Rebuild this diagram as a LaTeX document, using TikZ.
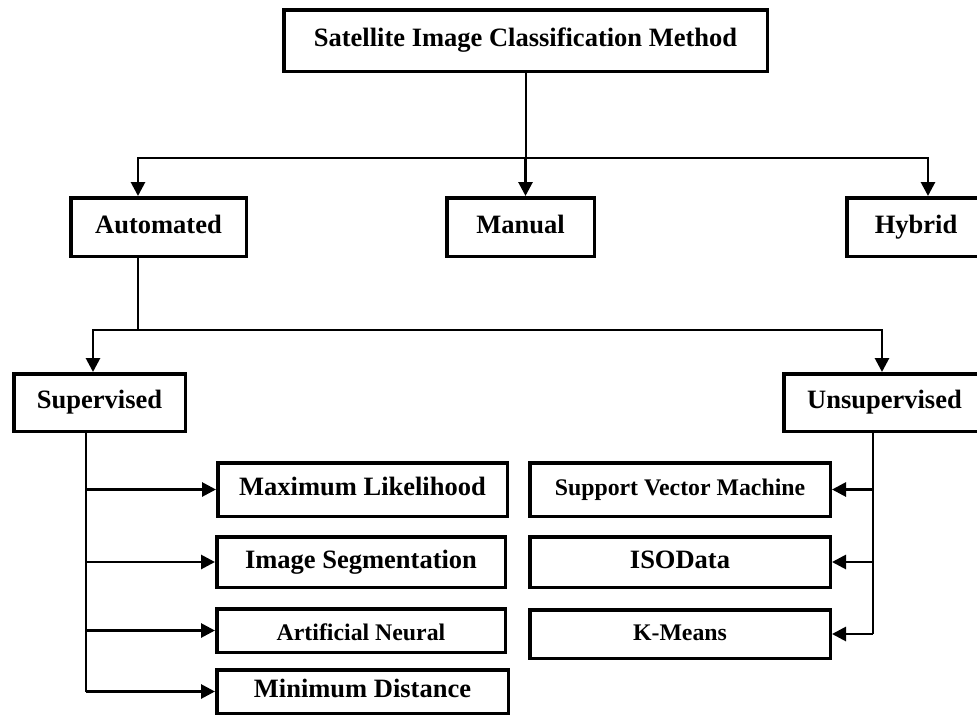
\documentclass[tikz,border=0pt]{standalone}
\usepackage{fontspec}
\setmainfont{Liberation Serif}
\usetikzlibrary{arrows.meta}
\tikzset{
  box/.style={draw, line width=3.5pt, rectangle, inner sep=0pt, align=center,
    text height=18pt, text depth=6pt,
    font=\fontsize{26.5}{30}\selectfont\bfseries},
  smallbox/.style={box, font=\fontsize{23.8}{27}\selectfont\bfseries},
  conn/.style={line width=2.8pt},
  thin conn/.style={line width=2pt},
  arr/.style={line width=2.8pt, -{Triangle[length=14pt,width=14pt]}},
}
\begin{document}
\begin{tikzpicture}[x=1pt,y=-1pt]
\clip (0,0) rectangle (977,718);
\fill[white] (0,0) rectangle (977,718);
% boxes
\node[box, minimum width=483.5pt, minimum height=61.5pt] (top) at (525.5,40.5) {Satellite Image Classification Method};
\node[box, minimum width=175.5pt, minimum height=58.5pt] (auto) at (158.5,227) {Automated};
\node[box, minimum width=147.5pt, minimum height=58.5pt] (man) at (520.5,227) {Manual};
\node[box, minimum width=138.5pt, minimum height=58.5pt] (hyb) at (916,227) {Hybrid};
\node[box, minimum width=171.5pt, minimum height=57.5pt] (sup) at (99.5,402.5) {Supervised};
\node[box, minimum width=201.5pt, minimum height=57.5pt] (uns) at (884.5,402.5) {Unsupervised};
\node[box, minimum width=289.5pt, minimum height=53.5pt] (ml) at (362.5,489.5) {Maximum Likelihood};
\node[box, minimum width=288.5pt, minimum height=50.5pt] (seg) at (361,562) {Image Segmentation};
\node[smallbox, minimum width=288.5pt, minimum height=43.5pt] (ann) at (361,630.5) {\raisebox{-4pt}{Artificial Neural}};
\node[box, minimum width=291.5pt, minimum height=43.5pt] (mind) at (362.5,691.5) {Minimum Distance};
\node[smallbox, minimum width=300.5pt, minimum height=53.5pt] (svm) at (680,489.5) {Support Vector Machine};
\node[box, minimum width=300.5pt, minimum height=50.5pt] (iso) at (680,562) {ISOData};
\node[smallbox, minimum width=300.5pt, minimum height=48.5pt] (km) at (680,634) {K-Means};
% junction coordinates
\coordinate (j0) at (525.5,158);
\coordinate (jl) at (138,158);
\coordinate (jr) at (928,158);
\coordinate (a0) at (138,330);
\coordinate (sl) at (93,330);
\coordinate (sr) at (882,330);
\coordinate (sv) at (86,433);
\coordinate (uv) at (873,433);
% top level
\draw[thin conn] (top.south) -- (j0);
\draw[conn, line cap=rect] (jl) -- (jr);
\draw[arr] (j0) -- (j0 |- man.north);
\draw[arr] (jl) -- (jl |- auto.north);
\draw[arr] (jr) -- (jr |- hyb.north);
% automated
\draw[thin conn] (auto.south -| a0) -- (a0);
\draw[thin conn, line cap=rect] (sl) -- (sr);
\draw[arr] (sl) -- (sl |- sup.north);
\draw[arr] (sr) -- (sr |- uns.north);
% supervised
\draw[conn] (sup.south -| sv) -- (sv |- mind.west);
\draw[arr] (sv |- ml.west) -- (ml.west);
\draw[arr] (sv |- seg.west) -- (seg.west);
\draw[arr] (sv |- ann.west) -- (ann.west);
\draw[arr] (sv |- mind.west) -- (mind.west);
% unsupervised
\draw[conn] (uns.south -| uv) -- (uv |- km.east);
\draw[arr] (uv |- svm.east) -- (svm.east);
\draw[arr] (uv |- iso.east) -- (iso.east);
\draw[arr] (uv |- km.east) -- (km.east);
\end{tikzpicture}
\end{document}
